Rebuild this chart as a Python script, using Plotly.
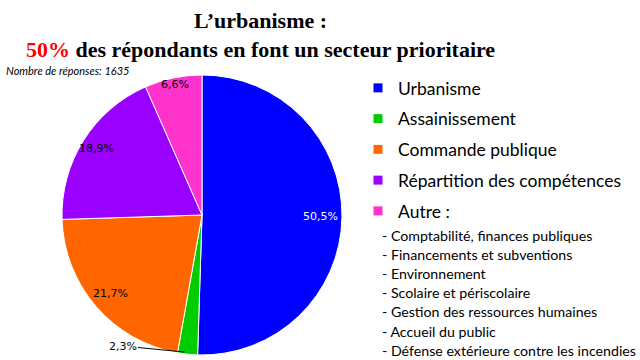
import math
import plotly.graph_objects as go

categories = ["Urbanisme", "Assainissement", "Commande publique",
              "Répartition des compétences", "Autre :"]
values = [50.5, 2.3, 21.7, 18.9, 6.6]
colors = ["#0000FF", "#00CC00", "#FF6600", "#9900FF", "#FF33CC"]
label_colors = ["white", "black", "black", "black", "black"]
label_radius = [0.85, None, 0.86, 0.89, 0.95]  # fraction of pie radius (None = outside label)
autre_details = [
    "- Comptabilité, finances publiques",
    "- Financements et subventions",
    "- Environnement",
    "- Scolaire et périscolaire",
    "- Gestion des ressources humaines",
    "- Accueil du public",
    "- Défense extérieure contre les incendies",
]
n_reponses = 1635

W, H = 640, 360
# pie geometry (pixels)
cx, cy, R = 202, 215, 140

def fmt_pct(v, total):
    return f"{100 * v / total:.1f}%".replace(".", ",")

fig = go.Figure()
fig.add_trace(go.Pie(
    labels=categories, values=values, sort=False, direction="clockwise",
    rotation=0, showlegend=False,
    marker=dict(colors=colors, line=dict(color="white", width=1)),
    textinfo="none",
    domain=dict(x=[(cx - R) / W, (cx + R) / W], y=[1 - (cy + R) / H, 1 - (cy - R) / H]),
    hoverinfo="label+percent",
))

# legend entries
for c, col in zip(categories, colors):
    fig.add_trace(go.Scatter(
        x=[None], y=[None], mode="markers", name=c, legendgroup=c,
        marker=dict(symbol="square", size=9, color=col),
    ))

annotations = []
annotations.append(dict(
    text="L’urbanisme :<br><span style='color:#FF0000'>50%</span> des répondants en font un secteur prioritaire",
    xref="paper", yref="paper", x=260 / W, y=1 - 6 / H,
    xanchor="center", yanchor="top", showarrow=False, align="center",
    font=dict(family="Liberation Serif", size=22, color="black", weight="bold"),
))

# slice labels, placed from the data (clockwise from 12 o'clock)
total = sum(values)
cum = 0.0
for i, v in enumerate(values):
    mid = (cum + v / 2) / total * 2 * math.pi
    cum += v
    txt = fmt_pct(v, total)
    if label_radius[i] is None:
        # outside label with leader line to the slice's lower-left edge
        edge = (cum - v) / total * 2 * math.pi + 0.6 * (v / total) * 2 * math.pi
        ex = cx + R * math.sin(edge)
        ey = cy - R * math.cos(edge)
        annotations.append(dict(
            text=txt, xref="paper", yref="paper", x=(ex - 1) / W, y=1 - (ey - 2) / H,
            showarrow=True, arrowhead=0, arrowwidth=1, arrowcolor="black",
            ax=-62, ay=-6, font=dict(family="DejaVu Sans", size=11, color="black"),
        ))
        continue
    lx = cx + label_radius[i] * R * math.sin(mid)
    ly = cy - label_radius[i] * R * math.cos(mid)
    annotations.append(dict(
        text=txt, xref="paper", yref="paper", x=lx / W, y=1 - ly / H,
        xanchor="center", yanchor="middle", showarrow=False,
        font=dict(family="DejaVu Sans", size=11, color=label_colors[i]),
    ))

annotations.append(dict(
    text=f"<i>Nombre de réponses: {n_reponses}</i>",
    xref="paper", yref="paper", x=4 / W, y=1 - 71 / H,
    xanchor="left", yanchor="middle", showarrow=False,
    font=dict(family="Lato", size=11, color="black"),
))
for i, line in enumerate(autre_details):
    annotations.append(dict(
        text=line, xref="paper", yref="paper",
        x=380 / W, y=1 - (235 + 19.2 * i) / H,
        xanchor="left", yanchor="middle", showarrow=False,
        font=dict(family="Lato", size=14.2, color="black"),
    ))

fig.update_layout(
    width=W, height=H,
    margin=dict(l=0, r=0, t=0, b=0),
    paper_bgcolor="white", plot_bgcolor="white",
    xaxis=dict(visible=False), yaxis=dict(visible=False),
    showlegend=True,
    legend=dict(
        x=358 / W, y=1 - 70 / H, xanchor="left", yanchor="top",
        font=dict(family="Lato", size=17.5, color="black"),
        tracegroupgap=5, bgcolor="rgba(0,0,0,0)",
    ),
    annotations=annotations,
)

fig.write_html("out.html", config={"displayModeBar": False},
               post_script="document.body.style.margin='0';")
